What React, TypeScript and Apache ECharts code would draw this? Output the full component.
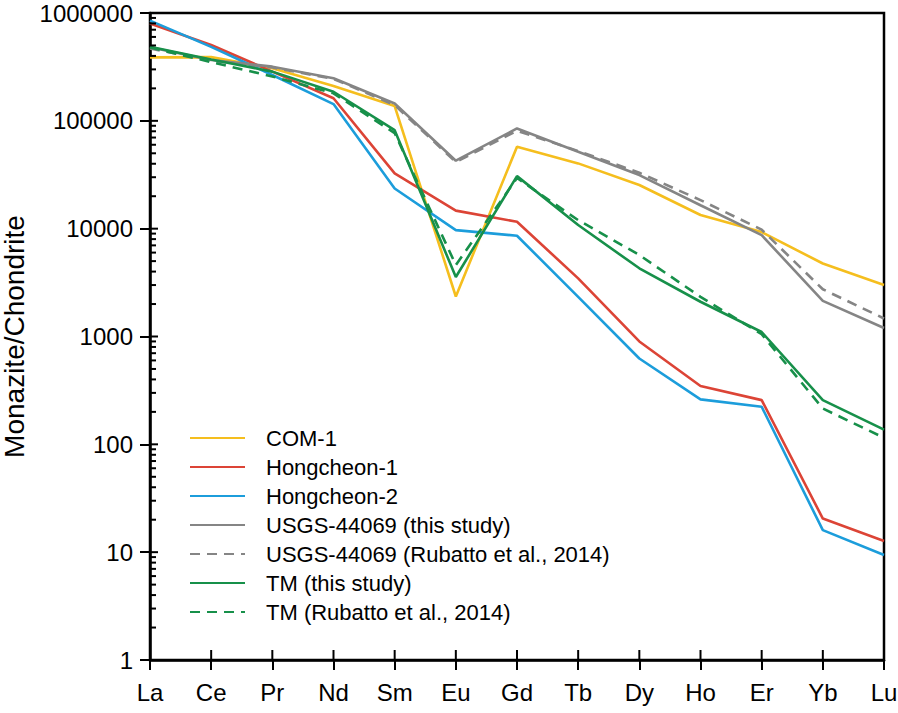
import React, { useEffect, useRef } from "react";
import * as echarts from "echarts";

const elements = ["La", "Ce", "Pr", "Nd", "Sm", "Eu", "Gd", "Tb", "Dy", "Ho", "Er", "Yb", "Lu"];

const com1 = [388000, 390000, 307000, 210000, 137000, 2350, 57500, 40300, 25400, 13400, 9300, 4750, 3000];
const hongcheon1 = [800000, 505000, 286000, 162000, 32600, 14700, 11600, 3460, 900, 347, 257, 20.5, 12.7];
const hongcheon2 = [849000, 485000, 266000, 143000, 23600, 9700, 8600, 2330, 625, 261, 223, 16, 9.4];
const usgsThis = [481000, 366000, 318000, 248000, 145000, 42700, 85000, 51700, 31400, 16500, 8700, 2140, 1200];
const usgsRubatto = [470000, 360000, 312000, 245000, 140000, 41500, 81000, 52500, 33000, 18400, 9800, 2740, 1470];
const tmThis = [487000, 370000, 286000, 186000, 82000, 3560, 30700, 10800, 4290, 2100, 1100, 257, 137];
const tmRubatto = [480000, 350000, 258000, 180000, 77000, 4600, 29500, 12000, 5700, 2330, 1050, 215, 115];

const majorTicks = [1, 10, 100, 1000, 10000, 100000, 1000000];
const minorTicks: number[] = [];
for (let d = 1; d < 1000000; d *= 10) {
  for (let m = 2; m <= 9; m++) minorTicks.push(m * d);
}

const FONT = "Arial, 'Liberation Sans', Helvetica, sans-serif";

export default function App() {
  const ref = useRef<HTMLDivElement>(null);
  useEffect(() => {
    if (!ref.current) return;
    const chart = echarts.init(ref.current, null, { renderer: "svg" });
    const line = (name: string, data: number[], color: string, dashed = false) => ({
      name,
      type: "line",
      data,
      symbol: "none",
      showSymbol: false,
      legendIcon: "none",
      lineStyle: { color, width: 2.6, type: dashed ? [10, 7] : "solid" },
      itemStyle: { color },
      z: 3,
    });
    const tickSeries = (items: number[][], dir: "right" | "up", len: number) => ({
      type: "custom",
      silent: true,
      clip: false,
      z: 10,
      encode: { x: 0, y: 1 },
      data: items,
      renderItem: (_p: any, api: any) => {
        const pt = api.coord([api.value(0), api.value(1)]);
        const x2 = dir === "right" ? pt[0] + len : pt[0];
        const y2 = dir === "up" ? pt[1] - len : pt[1];
        return {
          type: "line",
          shape: { x1: pt[0], y1: pt[1], x2, y2 },
          style: { stroke: "#000", lineWidth: 2 },
        };
      },
    });
    chart.setOption({
      animation: false,
      backgroundColor: "#fff",
      grid: {
        left: 150,
        right: 14,
        top: 13,
        bottom: 53,
        outerBoundsMode: "none",
        containLabel: false,
        show: true,
        borderColor: "#000",
        borderWidth: 2.5,
      },
      legend: {
        orient: "vertical",
        left: 184,
        top: 422,
        itemWidth: 55,
        itemHeight: 14,
        itemGap: 7,
        itemStyle: { opacity: 0 },
        textStyle: {
          fontFamily: FONT,
          fontSize: 22,
          lineHeight: 22,
          color: "#000",
          padding: [0, 0, 0, 16],
        },
        data: [
          "COM-1",
          "Hongcheon-1",
          "Hongcheon-2",
          "USGS-44069 (this study)",
          "USGS-44069 (Rubatto et al., 2014)",
          "TM (this study)",
          "TM (Rubatto et al., 2014)",
        ],
      },
      xAxis: {
        type: "category",
        data: elements,
        boundaryGap: false,
        axisLine: { lineStyle: { color: "#000", width: 2.5 } },
        axisTick: { show: true, length: 10, lineStyle: { color: "#000", width: 2 } },
        axisLabel: { color: "#000", fontSize: 24, fontFamily: FONT, margin: 20 },
        splitLine: { show: false },
      },
      yAxis: {
        type: "log",
        logBase: 10,
        min: 1,
        max: 1000000,
        name: "Monazite/Chondrite",
        nameLocation: "middle",
        nameGap: 102,
        nameTextStyle: { color: "#000", fontSize: 28, fontFamily: FONT },
        axisLine: { show: true, lineStyle: { color: "#000", width: 2.5 } },
        axisTick: { show: true, length: 10, lineStyle: { color: "#000", width: 2 } },
        axisLabel: {
          color: "#000",
          fontSize: 24,
          fontFamily: FONT,
          margin: 17,
          formatter: (v: number) => String(Math.round(v)),
        },
        splitLine: { show: false },
        minorTick: { show: false },
      },
      series: [
        line("COM-1", com1, "#F5BE1E"),
        line("Hongcheon-1", hongcheon1, "#DC4436"),
        line("Hongcheon-2", hongcheon2, "#1C9DDB"),
        line("USGS-44069 (this study)", usgsThis, "#858585"),
        line("USGS-44069 (Rubatto et al., 2014)", usgsRubatto, "#858585", true),
        line("TM (this study)", tmThis, "#17904A"),
        line("TM (Rubatto et al., 2014)", tmRubatto, "#17904A", true),
        tickSeries(minorTicks.map((v) => [0, v]), "right", 6),
        tickSeries(majorTicks.map((v) => [0, v]), "right", 8),
        tickSeries(elements.map((_, i) => [i, 1]), "up", 10),
      ],
    });
    return () => chart.dispose();
  }, []);
  return (
    <div
      ref={ref}
      style={{ position: "absolute", left: 0, top: 0, width: 898, height: 713, overflow: "hidden" }}
    />
  );
}
